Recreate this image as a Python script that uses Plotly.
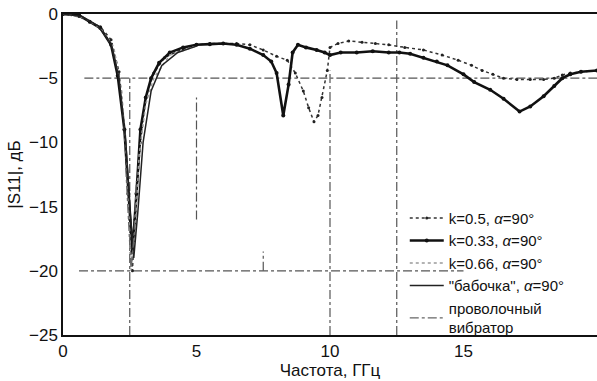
import plotly.graph_objects as go

# ---- data ----
f_033 = [0, 0.6, 1.0, 1.4, 1.8, 2.05, 2.3, 2.45, 2.6, 2.75, 2.9, 3.1, 3.3, 3.6, 4.0, 4.5, 5.0,
         5.5, 6.0, 6.5, 7.0, 7.5, 7.8, 8.0, 8.25, 8.45, 8.6, 8.8, 9.1, 9.5, 9.8, 10.0, 10.4,
         11.0, 11.6, 12.2, 12.6, 13.0, 13.5, 14.0, 14.4, 15.0, 15.4, 16.0, 16.5, 17.1, 17.5,
         18.0, 18.4, 18.7, 19.0, 19.4, 20.0]
s_033 = [0, -0.1, -0.6, -1.1, -2.4, -4.8, -9.0, -14.0, -18.5, -14.0, -9.0, -6.5, -5.0, -3.8,
         -3.0, -2.6, -2.4, -2.35, -2.3, -2.4, -2.7, -3.2, -3.7, -4.6, -7.9, -5.5, -3.0, -2.4,
         -2.6, -2.8, -3.0, -3.2, -3.0, -3.0, -2.9, -3.0, -3.0, -3.1, -3.4, -3.7, -4.0, -4.7,
         -5.3, -5.9, -6.6, -7.6, -7.2, -6.4, -5.6, -5.0, -4.7, -4.5, -4.4]

f_05 = [0, 0.6, 1.0, 1.4, 1.8, 2.1, 2.3, 2.5, 2.6, 2.7, 2.9, 3.1, 3.4, 3.8, 4.5, 5.0, 5.5,
        6.0, 6.5, 7.0, 7.5, 8.0, 8.4, 8.7, 9.0, 9.2, 9.4, 9.55, 9.7, 9.9, 10.0, 10.3, 10.7,
        11.2, 11.7, 12.2, 12.8, 13.5, 14.2, 14.8, 15.3, 15.7, 16.1, 16.5, 17.0, 17.5, 18.0,
        18.4, 18.7, 19.0, 19.4, 20.0]
s_05 = [0, -0.2, -0.6, -1.0, -2.0, -4.5, -9.0, -16.0, -20.0, -16.0, -10.0, -6.5, -4.6, -3.4,
        -2.7, -2.4, -2.3, -2.3, -2.3, -2.4, -2.8, -3.3, -3.6, -4.6, -6.0, -7.3, -8.4, -7.9,
        -6.5, -4.4, -2.6, -2.3, -2.1, -2.2, -2.3, -2.4, -2.6, -2.8, -3.2, -3.6, -4.0, -4.4,
        -4.7, -5.0, -5.1, -5.1, -5.1, -5.0, -4.75, -4.6, -4.5, -4.4]

f_066 = [0, 0.8, 1.4, 1.9, 2.2, 2.4, 2.55, 2.7, 2.85, 3.1, 3.4, 4.0, 5.0]
s_066 = [0, -0.3, -1.1, -2.6, -6.0, -12.0, -19.5, -17.0, -11.0, -7.0, -5.0, -3.2, -2.5]

f_bab = [0, 0.7, 1.3, 1.8, 2.1, 2.35, 2.5, 2.65, 2.8, 3.0, 3.3, 3.7, 4.3, 5.0]
s_bab = [0, -0.2, -0.9, -2.3, -5.0, -10.0, -15.0, -19.0, -15.5, -10.0, -6.0, -4.0, -3.0, -2.5]

f_wire = [2.35, 2.45, 2.55, 2.65, 2.75]
s_wire = [-12.0, -16.0, -20.0, -17.5, -13.0]

# dash-dot grid fragments visible in the scan: (value, from, to)
h_grid = [(-5, 0.8, 20), (-20, 0.6, 15)]
v_grid = [(2.5, -25, -5), (5, -16, -6.5), (7.5, -20, -18.5), (10, -25, -4.4), (12.5, -25, -0.5)]

x_ticks = [0, 5, 10, 15, 20]
y_ticks = [0, -5, -10, -15, -20, -25]

fig = go.Figure()

grid_style = dict(color="#555555", width=1.2, dash="dashdot")
for y, x0, x1 in h_grid:
    fig.add_shape(type="line", x0=x0, x1=x1, y0=y, y1=y, line=grid_style, layer="below")
for x, y0, y1 in v_grid:
    fig.add_shape(type="line", x0=x, x1=x, y0=y0, y1=y1, line=grid_style, layer="below")

fig.add_trace(go.Scatter(x=f_05, y=s_05, mode="lines+markers", name="k=0.5, <i>α</i>=90°",
                         line=dict(color="#333333", width=1.5, dash="dot"),
                         marker=dict(size=3, color="#222222")))
fig.add_trace(go.Scatter(x=f_033, y=s_033, mode="lines+markers", name="k=0.33, <i>α</i>=90°",
                         line=dict(color="#111111", width=2.6),
                         marker=dict(size=4, color="#111111")))
fig.add_trace(go.Scatter(x=f_066, y=s_066, mode="lines", name="k=0.66, <i>α</i>=90°",
                         line=dict(color="#9a9a9a", width=1.5, dash="dot")))
fig.add_trace(go.Scatter(x=f_bab, y=s_bab, mode="lines", name="\"бабочка\", <i>α</i>=90°",
                         line=dict(color="#222222", width=1.5)))
fig.add_trace(go.Scatter(x=f_wire, y=s_wire, mode="lines", name="проволочный<br>вибратор",
                         line=dict(color="#666666", width=1.2, dash="dashdot")))

font_family = "Liberation Sans, Arial, sans-serif"
fig.update_layout(
    width=597, height=381,
    margin=dict(l=63, r=0, t=14, b=46, autoexpand=False),
    paper_bgcolor="white", plot_bgcolor="white",
    font=dict(family=font_family, size=16, color="#111111"),
    showlegend=True,
    legend=dict(x=0.64, y=0.415, xanchor="left", yanchor="top",
                bgcolor="rgba(255,255,255,0)", borderwidth=0,
                font=dict(size=15), tracegroupgap=0, itemwidth=34),
    xaxis=dict(range=[0, 20], tickvals=x_ticks, ticks="", showgrid=False, zeroline=False,
               showline=True, linecolor="#111111", linewidth=1.5, mirror=True,
               tickfont=dict(size=17),
               title=dict(text="Частота, ГГц", font=dict(size=17), standoff=0)),
    yaxis=dict(range=[-25, 0], tickvals=y_ticks, ticks="", showgrid=False, zeroline=False,
               showline=True, linecolor="#111111", linewidth=1.5, mirror=True,
               tickfont=dict(size=17),
               title=dict(text="|S11|, дБ", font=dict(size=17), standoff=4)),
)

fig.write_html("out.html")
